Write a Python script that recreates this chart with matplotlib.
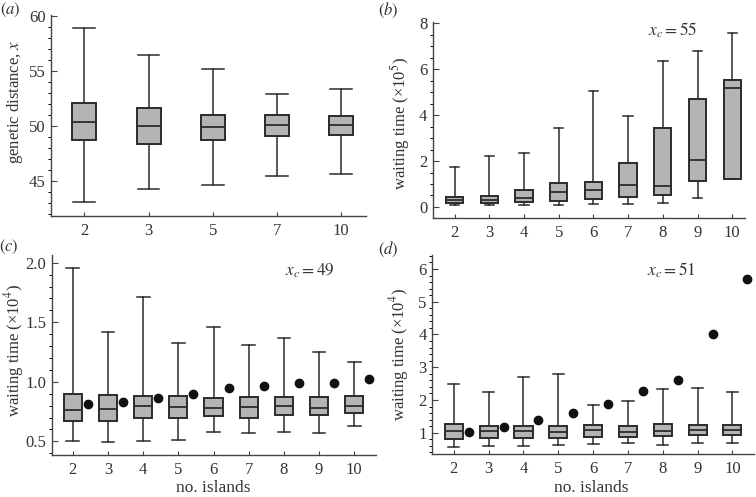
import matplotlib.pyplot as plt
from matplotlib.ticker import MultipleLocator

plt.rcParams['font.family'] = ['Liberation Serif', 'DejaVu Serif']
plt.rcParams['mathtext.fontset'] = 'stix'

# (a) genetic distance
a_labels = ['2', '3', '5', '7', '10']
a_lo = [43.1, 44.3, 44.6, 45.45, 45.65]
a_q1 = [48.7, 48.4, 48.7, 49.1, 49.15]
a_med = [50.35, 49.95, 49.9, 50.05, 50.1]
a_q3 = [52.1, 51.6, 51.0, 51.0, 50.9]
a_hi = [58.9, 56.45, 55.2, 52.95, 53.4]

# (b) waiting time, x_c = 55
b_labels = ['2', '3', '4', '5', '6', '7', '8', '9', '10']
b_lo = [0.09, 0.09, 0.09, 0.09, 0.12, 0.13, 0.18, 0.40, 1.21]
b_q1 = [0.16, 0.16, 0.22, 0.26, 0.33, 0.44, 0.52, 1.15, 1.21]
b_med = [0.30, 0.31, 0.41, 0.65, 0.74, 0.94, 0.91, 2.04, 5.17]
b_q3 = [0.44, 0.46, 0.76, 1.04, 1.08, 1.90, 3.45, 4.70, 5.55]
b_hi = [1.74, 2.21, 2.35, 3.44, 5.05, 3.98, 6.35, 6.80, 7.58]

# (c) waiting time, x_c = 49
c_labels = ['2', '3', '4', '5', '6', '7', '8', '9', '10']
c_lo = [0.503, 0.495, 0.505, 0.509, 0.578, 0.57, 0.578, 0.573, 0.631]
c_q1 = [0.668, 0.673, 0.70, 0.70, 0.712, 0.70, 0.72, 0.72, 0.738]
c_med = [0.763, 0.772, 0.80, 0.788, 0.777, 0.788, 0.797, 0.78, 0.797]
c_q3 = [0.90, 0.892, 0.88, 0.88, 0.861, 0.872, 0.872, 0.872, 0.88]
c_hi = [1.96, 1.418, 1.71, 1.33, 1.46, 1.31, 1.368, 1.25, 1.164]
c_dots = [0.814, 0.828, 0.861, 0.898, 0.945, 0.965, 0.987, 0.987, 1.02]

# (d) waiting time, x_c = 51
d_labels = ['2', '3', '4', '5', '6', '7', '8', '9', '10']
d_lo = [0.55, 0.59, 0.60, 0.62, 0.66, 0.69, 0.61, 0.69, 0.69]
d_q1 = [0.82, 0.85, 0.85, 0.85, 0.87, 0.87, 0.90, 0.93, 0.92]
d_med = [1.05, 1.04, 1.05, 1.03, 1.07, 1.01, 1.05, 1.07, 1.07]
d_q3 = [1.26, 1.21, 1.21, 1.20, 1.24, 1.19, 1.26, 1.23, 1.23]
d_hi = [2.50, 2.25, 2.70, 2.80, 1.84, 1.98, 2.32, 2.37, 2.24]
d_dots = [1.02, 1.18, 1.38, 1.61, 1.88, 2.27, 2.60, 4.02, 5.70]

dark = '#2b2b2b'
fill = '#b4b4b4'
txt = '#333333'


def draw_boxes(ax, lo, q1, med, q3, hi, width, capw):
    stats = [dict(whislo=l, q1=a, med=m, q3=b, whishi=h)
             for l, a, m, b, h in zip(lo, q1, med, q3, hi)]
    ax.bxp(stats, positions=range(len(stats)), widths=width, capwidths=capw,
           showfliers=False, patch_artist=True,
           boxprops=dict(facecolor=fill, edgecolor=dark, linewidth=1.4),
           medianprops=dict(color=dark, linewidth=1.3),
           whiskerprops=dict(color=dark, linewidth=1.1),
           capprops=dict(color=dark, linewidth=1.1))


def style(ax, labels, major, minor):
    for s in ['top', 'right']:
        ax.spines[s].set_visible(False)
    for s in ['left', 'bottom']:
        ax.spines[s].set_color('#444444')
        ax.spines[s].set_linewidth(1.0)
    ax.set_xticks(range(len(labels)))
    ax.set_xticklabels(labels)
    ax.yaxis.set_major_locator(MultipleLocator(major))
    ax.yaxis.set_minor_locator(MultipleLocator(minor))
    ax.tick_params(direction='in', labelsize=12, colors='#444444',
                   labelcolor=txt, width=0.8)
    ax.tick_params(axis='y', which='major', length=4, pad=4)
    ax.tick_params(axis='y', which='minor', length=2.5, width=0.7)
    ax.tick_params(axis='x', length=3, pad=5)


def ylab(ax, text, x, y):
    ax.set_ylabel(text, fontsize=12, color=txt, va='center')
    ax.yaxis.set_label_coords(x, y)


def xlab(ax, x, y):
    ax.set_xlabel('no. islands', fontsize=12.5, color=txt, va='center')
    ax.xaxis.set_label_coords(x, y)


fig = plt.figure(figsize=(7.56, 4.97), dpi=100)

ax_a = fig.add_axes([0.0675, 0.5654, 0.4167, 0.4044])
ax_b = fig.add_axes([0.5728, 0.5614, 0.4123, 0.395])
ax_c = fig.add_axes([0.0684, 0.0845, 0.429, 0.4024])
ax_d = fig.add_axes([0.5718, 0.0859, 0.4255, 0.4018])

draw_boxes(ax_a, a_lo, a_q1, a_med, a_q3, a_hi, 0.375, 0.34)
style(ax_a, a_labels, 5, 1)
ax_a.set_xlim(-0.52, 4.39)
ax_a.set_ylim(41.8, 60.1)
ylab(ax_a, 'genetic distance, $x$', -0.114, 0.57)

draw_boxes(ax_b, b_lo, b_q1, b_med, b_q3, b_hi, 0.5, 0.27)
style(ax_b, b_labels, 2, 0.5)
ax_b.set_xlim(-0.62, 8.36)
ax_b.set_ylim(-0.48, 8.07)
ylab(ax_b, 'waiting time (×10$^5$)', -0.107, 0.48)
ax_b.text(6.29, 7.7, '$x_c = 55$', fontsize=12.5, ha='center', va='center',
          color=txt)

xs = range(len(c_labels))
draw_boxes(ax_c, c_lo, c_q1, c_med, c_q3, c_hi, 0.52, 0.36)
ax_c.plot([x + 0.43 for x in xs], c_dots, 'o', color='#111111', ms=6)
style(ax_c, c_labels, 0.5, 0.1)
ax_c.set_xlim(-0.6, 8.62)
ax_c.set_ylim(0.385, 2.065)
ax_c.yaxis.set_major_formatter(plt.FormatStrFormatter('%.1f'))
ylab(ax_c, 'waiting time (×10$^4$)', -0.117, 0.525)
xlab(ax_c, 0.497, -0.165)
ax_c.text(6.74, 1.93, '$x_c = 49$', fontsize=12.5, ha='center', va='center',
          color=txt)

draw_boxes(ax_d, d_lo, d_q1, d_med, d_q3, d_hi, 0.52, 0.32)
ax_d.plot([x + 0.43 for x in xs], d_dots, 'o', color='#111111', ms=6)
style(ax_d, d_labels, 1, 0.2)
ax_d.set_xlim(-0.62, 8.62)
ax_d.set_ylim(0.34, 6.44)
ylab(ax_d, 'waiting time (×10$^4$)', -0.104, 0.5)
xlab(ax_d, 0.494, -0.17)
ax_d.text(6.26, 5.95, '$x_c = 51$', fontsize=12.5, ha='center', va='center',
          color=txt)

for x, y, t in [(10, 10, 'a'), (388, 10, 'b'), (9, 247, 'c'), (388, 249, 'd')]:
    fig.text(x / 756, 1 - y / 497, '$(' + t + ')$', fontsize=12,
             ha='center', va='center', color=txt)

fig.savefig('out.png', dpi=100)
